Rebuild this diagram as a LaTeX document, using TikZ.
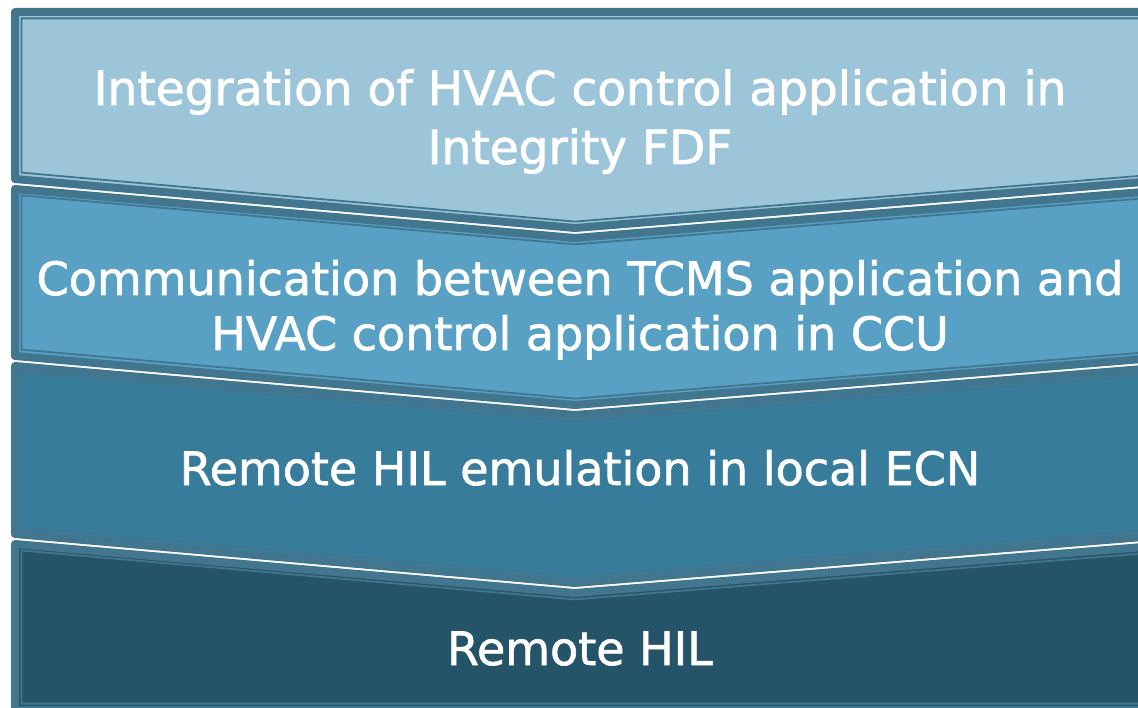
\documentclass[tikz,border=0pt]{standalone}
\usepackage{fontspec}
\setmainfont{DejaVu Sans}
\newfontfamily\bandfont[FakeBold=1.4]{DejaVu Sans}

\definecolor{bandA}{HTML}{9DC5DA}
\definecolor{bandB}{HTML}{58A1C4}
\definecolor{bandC}{HTML}{387C9B}
\definecolor{bandD}{HTML}{255468}
\definecolor{rimcol}{HTML}{41768E}

% chevron outline, inset by #1 from the outer edge
% #2/#3: top edge at left / at apex, #4/#5: bottom edge at left / at apex
\newcommand\chevpath[5]{(11+#1,#2+#1) -- (575,#3+#1) -- (1180,#2+#1) -- (1180,#4-#1) -- (575,#5-#1) -- (11+#1,#4-#1) -- cycle}

% one band: fill, thick rim and thin inner rim
\newcommand\chevband[5]{%
  \fill[#5] \chevpath{4}{#1}{#2}{#3}{#4};
  \draw[rimcol, line width=8, line join=round] \chevpath{4}{#1}{#2}{#3}{#4};
  \draw[rimcol, line width=1.8, line join=miter] \chevpath{10.4}{#1}{#2}{#3}{#4};
}

\tikzset{
  bandtext/.style={anchor=base, text=white, inner sep=0pt},
  bigtext/.style={bandtext, font=\bandfont\fontsize{47}{56}\selectfont},
  midtext/.style={bandtext, font=\bandfont\fontsize{46}{55}\selectfont}
}

\begin{document}
\begin{tikzpicture}[x=1pt, y=-1pt]
  \useasboundingbox (0,0) rectangle (1138,708);
  \fill[white] (0,0) rectangle (1138,708);
  \clip (0,0) rectangle (1138,708);

  % bands, top to bottom
  \chevband{8}{8}{183}{232}{bandA}
  \chevband{185}{234}{360}{409}{bandB}
  \chevband{362}{411}{538}{587}{bandC}
  \chevband{540}{589}{714}{714}{bandD}

  % labels
  \node[bigtext] (l1a) at (580,105) {Integration of HVAC control application in};
  \node[bigtext] (l1b) at (580,164) {Integrity FDF};
  \node[midtext] (l2a) at (580,295) {Communication between TCMS application and};
  \node[midtext] (l2b) at (580,350) {HVAC control application in CCU};
  \node[midtext] (l3) at (580,485) {Remote HIL emulation in local ECN};
  \node[midtext] (l4) at (580,665) {Remote HIL};
\end{tikzpicture}
\end{document}
